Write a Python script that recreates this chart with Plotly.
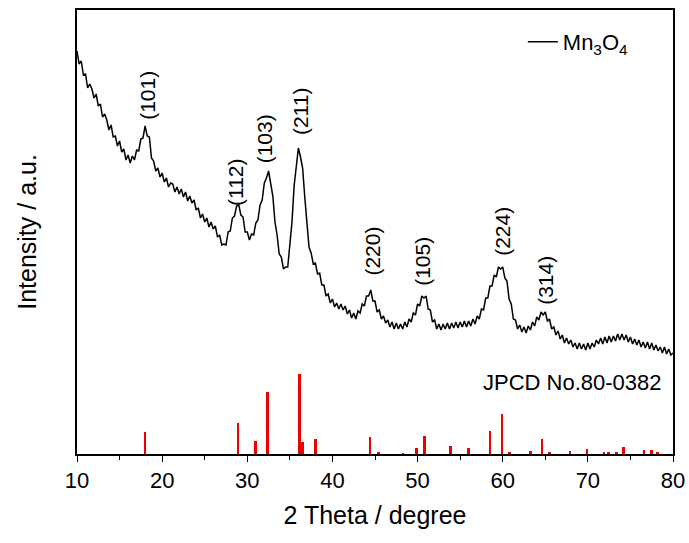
import numpy as np
import plotly.graph_objects as go

# XRD scan, 2-theta grid (0.25 deg steps from 10 to 80)
two_theta = np.round(10 + 0.25 * np.arange(281), 2)

intensity = [
    403, 390, 393, 379, 380, 366, 370, 365, 356, 360,
    348, 350, 337, 340, 334, 324, 329, 317, 318, 308,
    313, 302, 305, 294, 299, 291, 298, 294, 304, 303,
    315, 316, 328, 318, 317, 296, 293, 283, 286, 277,
    281, 272, 276, 267, 271, 270, 262, 267, 260, 265,
    257, 262, 253, 258, 251, 254, 244, 246, 236, 240,
    232, 236, 227, 232, 225, 228, 217, 219, 209, 210,
    209, 222, 223, 236, 238, 248, 249, 239, 237, 222,
    222, 214, 220, 219, 231, 234, 249, 254, 271, 276,
    283, 269, 258, 232, 219, 200, 197, 185, 187, 187,
    209, 232, 268, 286, 306, 297, 286, 257, 235, 207,
    201, 190, 191, 180, 181, 169, 169, 158, 160, 151,
    155, 147, 151, 145, 150, 144, 148, 140, 144, 136,
    141, 135, 143, 141, 150, 148, 158, 158, 164, 153,
    153, 142, 144, 135, 138, 131, 134, 127, 132, 125,
    131, 125, 130, 125, 132, 127, 135, 132, 141, 139,
    150, 148, 158, 156, 158, 145, 144, 132, 134, 125,
    130, 124, 130, 125, 131, 125, 131, 126, 132, 126,
    132, 127, 133, 127, 133, 128, 135, 130, 138, 135,
    145, 144, 156, 156, 168, 168, 179, 177, 187, 185,
    187, 176, 173, 155, 150, 135, 134, 125, 129, 122,
    127, 121, 128, 124, 132, 128, 137, 134, 142, 139,
    142, 133, 135, 125, 127, 119, 123, 115, 119, 111,
    116, 110, 114, 107, 111, 105, 111, 105, 110, 104,
    111, 105, 111, 107, 114, 110, 116, 110, 117, 111,
    118, 112, 118, 113, 120, 114, 120, 114, 119, 112,
    117, 110, 115, 109, 114, 107, 112, 106, 112, 105,
    111, 104, 109, 103, 107, 101, 107, 100, 105, 99,
    101,
]

# JCPDS reference lines
ref_pos = [18.0, 28.9, 31.0, 32.4, 36.1, 36.5, 38.0, 44.4, 45.4, 48.3,
           49.9, 50.8, 53.9, 56.0, 58.5, 59.9, 60.8, 63.3, 64.6, 65.5,
           67.9, 69.9, 71.9, 72.4, 73.4, 74.2, 76.6, 77.5, 78.2]
ref_int = [22, 31, 13, 62, 80, 12, 15, 17, 2, 1,
           6, 18, 8, 6, 23, 40, 1.5, 3, 15, 2,
           3, 5, 2, 2.5, 2, 7, 4, 4.5, 1.5]

# Peak labels
peak_labels = ["(101)", "(112)", "(103)", "(211)", "(220)", "(105)", "(224)", "(314)"]
peak_x = [18.2, 28.55, 32.0, 36.2, 44.6, 50.5, 59.9, 64.95]
peak_y = [359, 272, 315, 342, 203, 193, 223, 174]

FONT = "Liberation Sans, Arial, sans-serif"

fig = go.Figure()
fig.add_trace(go.Bar(
    x=ref_pos, y=ref_int, width=0.32,
    marker=dict(color="#ee0000", line=dict(width=0)),
    showlegend=False,
))
fig.add_trace(go.Scatter(
    x=two_theta, y=intensity, mode="lines",
    line=dict(color="black", width=1.5),
    name="Mn<sub>3</sub>O<sub>4</sub>",
))

for lab, px, py in zip(peak_labels, peak_x, peak_y):
    fig.add_annotation(x=px, y=py, text=lab, textangle=-90, showarrow=False,
                       font=dict(family=FONT, size=21, color="black"))

fig.add_annotation(x=79.0, y=72, text="JPCD No.80-0382", showarrow=False,
                   xanchor="right", font=dict(family=FONT, size=22, color="black"))

fig.update_layout(
    width=689, height=543,
    margin=dict(l=77, r=16, t=10, b=89),
    paper_bgcolor="white", plot_bgcolor="white",
    font=dict(family=FONT, color="black"),
    bargap=0,
    legend=dict(x=0.748, y=0.928, xanchor="left", yanchor="middle",
                bgcolor="rgba(0,0,0,0)", font=dict(family=FONT, size=22)),
    xaxis=dict(
        range=[10, 80], dtick=10, tick0=10, automargin=False,
        ticks="outside", ticklen=6, tickwidth=1.3, tickcolor="black",
        minor=dict(dtick=5, ticks="outside", ticklen=4, tickwidth=1.3, tickcolor="black"),
        showline=True, linecolor="black", linewidth=1.5, mirror=True,
        showgrid=False, zeroline=False,
        tickfont=dict(family=FONT, size=22),
        title=dict(text="2 Theta / degree", font=dict(family=FONT, size=25), standoff=14),
    ),
    yaxis=dict(
        range=[0, 444], showticklabels=False, ticks="", automargin=False,
        showline=True, linecolor="black", linewidth=1.5, mirror=True,
        showgrid=False, zeroline=False,
        title=dict(text="Intensity / a.u.", font=dict(family=FONT, size=25), standoff=32),
    ),
)

fig.write_html("out.html")
